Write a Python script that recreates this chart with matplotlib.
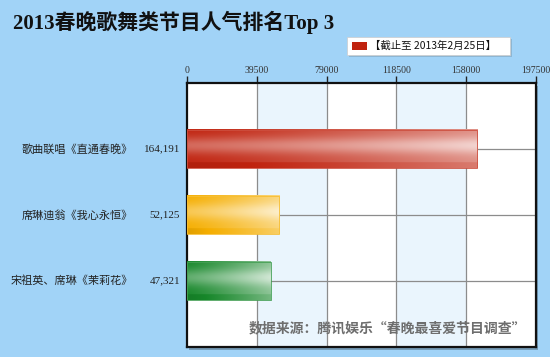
import numpy as np
import matplotlib
matplotlib.use("Agg")
import matplotlib.pyplot as plt
from matplotlib.patches import Rectangle
import matplotlib.colors as mcolors

plt.rcParams['font.family'] = ['Noto Sans CJK SC', 'DejaVu Sans']

# ---- data ----
programs = ["歌曲联唱《直通春晚》", "席琳迪翁《我心永恒》", "宋祖英、席琳《茉莉花》"]
votes = [164191, 52125, 47321]
value_labels = ["164,191", "52,125", "47,321"]
xticks = [0, 39500, 79000, 118500, 158000, 197500]
bar_colors = ["#c0230f", "#f5ae00", "#17872a"]
title = "2013春晚歌舞类节目人气排名Top 3"
legend_label = "【截止至 2013年2月25日】"
source = "数据来源：腾讯娱乐“春晚最喜爱节目调查”"

W, H = 550, 357
bg = "#a1d3f7"
fig = plt.figure(figsize=(W / 100, H / 100), dpi=100, facecolor=bg)

def fx(px):
    return px / W

def fy(py):
    return 1 - py / H

ax_l, ax_r, ax_t, ax_b = 187, 536, 83, 347
# shadow behind plot area
fig.patches.append(Rectangle((fx(ax_l + 2), fy(ax_b + 3)), fx(ax_r - ax_l), (ax_b - ax_t) / H,
                             transform=fig.transFigure, facecolor="#5a7a90", edgecolor="none",
                             alpha=0.6, zorder=0))
ax = fig.add_axes([fx(ax_l), fy(ax_b), fx(ax_r - ax_l), (ax_b - ax_t) / H])
ax.set_zorder(2)
ax.set_facecolor("white")
ax.set_xlim(xticks[0], xticks[-1])
ax.set_ylim(0, len(programs) + 1)

# alternating bands
for i in range(len(xticks) - 1):
    if i % 2 == 1:
        ax.axvspan(xticks[i], xticks[i + 1], color="#eaf5fd", zorder=0, lw=0)
for x in xticks[1:-1]:
    ax.axvline(x, color="#8c8c8c", lw=0.9, zorder=1)

n = len(programs)
ypos = [n - i for i in range(n)]
for y in ypos:
    ax.axhline(y, color="#8c8c8c", lw=0.9, zorder=1)

bar_h = 0.58
ny, nx = 60, 200
yy = np.linspace(0, 1, ny)[:, None]   # 0 top -> 1 bottom
xx = np.linspace(0, 1, nx)[None, :]
# vertical profile: highlight around 40% from top, darker at edges
vprof = 0.30 * np.exp(-((yy - 0.42) / 0.22) ** 2) - 0.10 * (yy > 0.85)
for y, v, c in zip(ypos, votes, bar_colors):
    base = np.array(mcolors.to_rgb(c))
    mix = np.clip(0.02 + vprof + 0.48 * xx ** 1.2, -0.2, 0.85)
    img = np.empty((ny, nx, 3))
    for k in range(3):
        light = base[k] + (1 - base[k]) * np.clip(mix, 0, 1)
        dark = base[k] * (1 + np.clip(mix, -1, 0))
        img[..., k] = np.where(mix >= 0, light, dark)
    ax.imshow(img, extent=(0, v, y - bar_h / 2, y + bar_h / 2), origin="upper",
              aspect="auto", zorder=3, interpolation="bilinear")
    ax.add_patch(Rectangle((0, y - bar_h / 2), v, bar_h, facecolor="none",
                           edgecolor=mcolors.to_hex(base * 0.8 + 0.2), lw=0.6, zorder=4))

ax.set_xlim(xticks[0], xticks[-1])
ax.set_ylim(0, n + 1)

ax.xaxis.tick_top()
ax.set_xticks(xticks)
ax.set_xticklabels([str(t) for t in xticks], fontsize=7, color="#333333",
                   family=["Liberation Serif", "DejaVu Serif"])
ax.tick_params(axis="x", length=5, width=1, color="#222222", pad=1)
ax.set_yticks([])
for s in ax.spines.values():
    s.set_color("#111111")
    s.set_linewidth(1.6)

# category labels
for y, name, lab in zip(ypos, programs, value_labels):
    yp = ax.transData.transform((0, y))[1]
    yf = yp / (H)
    fig.text(fx(133), yf, name, ha="right", va="center", fontsize=8, color="#222222")
    fig.text(fx(180), yf, lab, ha="right", va="center", fontsize=8, color="#222222",
             family=["Liberation Serif", "DejaVu Serif"])

# title
fig.text(fx(13), fy(22), title, ha="left", va="center", fontsize=15, fontweight="bold",
         color="#111111", family=["Liberation Serif", "Noto Sans CJK SC"])

# legend box
fig.patches.append(Rectangle((fx(349), fy(57)), fx(163), 18 / H, transform=fig.transFigure,
                             facecolor="#7a9ab0", edgecolor="none", alpha=0.5, zorder=1))
fig.patches.append(Rectangle((fx(347), fy(55)), fx(163), 18 / H, transform=fig.transFigure,
                             facecolor="white", edgecolor="#cccccc", lw=0.5, zorder=2))
fig.patches.append(Rectangle((fx(352), fy(50)), fx(15), 8 / H, transform=fig.transFigure,
                             facecolor=bar_colors[0], edgecolor="none", zorder=3))
fig.text(fx(370), fy(46), legend_label, ha="left", va="center", fontsize=7.5, color="#111111", zorder=4)

# source
fig.text(fx(526), fy(328), source, ha="right", va="center", fontsize=10, fontweight="bold",
         color="#6e6e6e", zorder=10)

fig.savefig("out.png", dpi=100, facecolor=bg)
